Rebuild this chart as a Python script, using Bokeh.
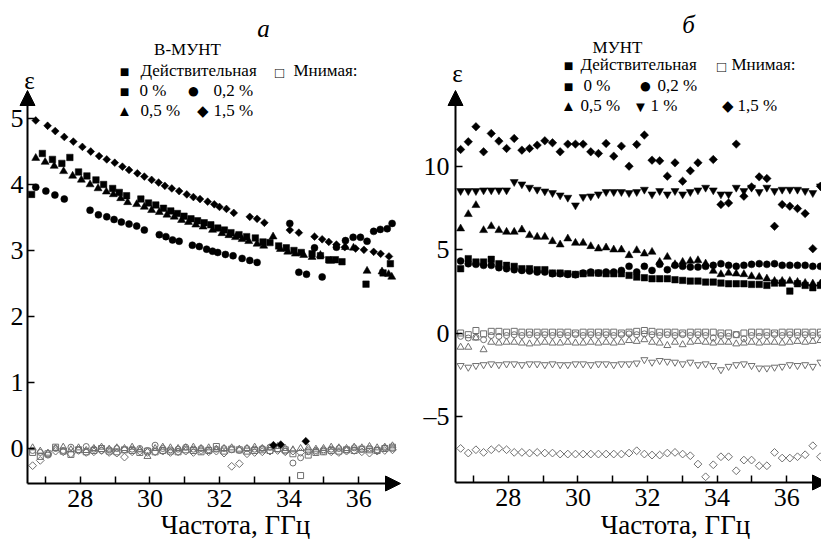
import numpy as np
from bokeh.plotting import figure
from bokeh.models import Label, Arrow, NormalHead, FixedTicker, Range1d
from bokeh.layouts import row
from bokeh.embed import file_html
from bokeh.resources import INLINE

FONT = "Liberation Serif"
GREY = "#6f6f6f"

# ---------------- data: panel a (B-MWCNT) ----------------
a_f_0 = [26.60, 26.91, 27.20, 27.47, 27.70, 27.95, 28.19, 28.45, 28.67, 28.93, 29.12, 29.33,
         29.74, 29.96, 30.17, 30.39, 30.60, 30.79, 30.98, 31.18, 31.37, 31.56, 31.75, 31.95,
         32.14, 32.33, 32.56, 32.78, 33.03, 33.25, 33.45, 33.70, 33.92, 34.14, 34.35, 34.66,
         34.90, 35.14, 35.33, 35.52, 36.21, 36.70, 36.91]
a_re_0 = [3.85, 4.47, 4.38, 4.32, 4.41, 4.19, 4.13, 4.07, 4.00, 3.94, 3.88, 3.83,
          3.78, 3.72, 3.69, 3.64, 3.60, 3.56, 3.52, 3.48, 3.45, 3.42, 3.39, 3.34,
          3.31, 3.27, 3.24, 3.21, 3.19, 3.13, 3.12, 3.07, 3.04, 3.00, 2.97, 2.95,
          2.92, 2.86, 2.86, 2.83, 2.49, 2.66, 2.80]

a_f_02 = [26.72, 27.01, 27.27, 27.54, 28.28, 28.52, 28.76, 28.97, 29.18, 29.40, 29.62, 29.84,
          30.27, 30.46, 30.65, 30.84, 31.22, 31.42, 31.63, 31.80, 31.95, 32.17, 32.39, 32.65,
          32.87, 33.08, 34.02, 34.28, 34.50, 34.73, 34.95, 35.36, 35.62, 35.84, 36.05, 36.24,
          36.43, 36.62, 36.82, 36.96]
a_re_02 = [3.96, 3.90, 3.84, 3.78, 3.61, 3.54, 3.51, 3.47, 3.43, 3.40, 3.37, 3.31,
           3.24, 3.21, 3.16, 3.14, 3.08, 3.06, 3.02, 2.99, 2.97, 2.94, 2.92, 2.88,
           2.85, 2.82, 3.41, 2.67, 2.64, 3.04, 2.60, 3.05, 3.15, 3.20, 3.20, 3.14,
           3.29, 3.32, 3.33, 3.41]

a_f_05 = [26.72, 26.99, 27.25, 27.52, 27.78, 28.03, 28.28, 28.51, 28.75, 28.95, 29.16, 29.36,
          29.62, 29.84, 30.05, 30.27, 30.49, 30.70, 30.91, 31.11, 31.32, 31.53, 31.80, 32.07,
          32.27, 32.46, 32.65, 32.84, 33.08, 33.27, 33.54, 33.75, 33.96, 34.18, 34.42, 34.66,
          34.90, 35.19, 35.62, 35.85, 36.24, 36.67, 36.86, 36.95]
a_re_05 = [4.40, 4.34, 4.28, 4.20, 4.13, 4.07, 4.00, 3.94, 3.89, 3.85, 3.79, 3.73,
           3.70, 3.66, 3.61, 3.58, 3.54, 3.51, 3.46, 3.43, 3.39, 3.36, 3.31, 3.26,
           3.23, 3.20, 3.17, 3.14, 3.10, 3.07, 3.21, 3.02, 2.98, 2.95, 2.93, 2.90,
           2.93, 2.84, 3.05, 3.04, 2.69, 2.68, 2.64, 2.60]

a_f_15 = [26.72, 27.06, 27.28, 27.54, 27.80, 28.06, 28.30, 28.54, 28.76, 28.99, 29.21, 29.40,
          29.64, 29.84, 30.05, 30.25, 30.43, 30.63, 30.84, 31.06, 31.25, 31.44, 31.66, 31.85,
          32.00, 32.20, 32.41, 32.87, 33.08, 33.29, 34.02, 34.28, 34.73, 34.95, 35.14, 35.36,
          35.60, 35.91, 36.15, 36.43, 36.63, 36.87]
a_re_15 = [4.97, 4.89, 4.81, 4.72, 4.65, 4.57, 4.50, 4.43, 4.38, 4.33, 4.27, 4.22,
           4.17, 4.12, 4.07, 4.03, 3.98, 3.94, 3.90, 3.85, 3.81, 3.78, 3.74, 3.70,
           3.66, 3.63, 3.57, 3.51, 3.48, 3.42, 3.31, 3.27, 3.21, 3.17, 3.13, 3.09,
           3.05, 3.03, 3.01, 2.98, 2.95, 2.91]

# measurement grid for the imaginary parts and for panel b
freq = [26.63, 26.85, 27.07, 27.29, 27.51, 27.73, 27.95, 28.17, 28.39, 28.61,
        28.83, 29.05, 29.27, 29.49, 29.71, 29.93, 30.15, 30.37, 30.59, 30.81,
        31.03, 31.25, 31.47, 31.69, 31.91, 32.13, 32.35, 32.57, 32.79, 33.01,
        33.23, 33.45, 33.67, 33.89, 34.11, 34.33, 34.55, 34.77, 34.99, 35.21,
        35.43, 35.65, 35.87, 36.09, 36.31, 36.53, 36.75, 36.97]

a_im_0 = [-0.06, -0.12, -0.08, 0.02, -0.04, -0.09, -0.02, -0.05, -0.03, 0.00,
          -0.04, -0.05, -0.02, -0.03, -0.06, -0.04, -0.05, -0.03, -0.04, -0.05,
          -0.02, -0.03, -0.05, -0.03, 0.03, -0.04, -0.01, -0.02, -0.04, -0.03,
          -0.02, -0.03, 0.00, -0.02, -0.08, -0.41, -0.10, -0.06, -0.05, -0.03,
          -0.04, -0.02, -0.03, -0.01, -0.02, -0.03, 0.00, 0.02]
a_im_02 = [-0.03, -0.06, -0.10, 0.00, -0.03, 0.02, -0.02, 0.03, -0.01, -0.03,
           -0.02, 0.00, -0.02, -0.01, 0.00, -0.03, 0.05, 0.00, -0.02, -0.01,
           0.02, -0.01, 0.00, -0.02, -0.01, 0.00, -0.02, -0.03, 0.00, -0.01,
           0.00, 0.02, -0.01, -0.04, -0.22, -0.14, -0.05, -0.03, -0.02, -0.01,
           0.00, -0.02, 0.01, -0.01, 0.00, -0.02, 0.01, 0.00]
a_im_05 = [0.01, -0.04, -0.07, 0.00, 0.02, -0.02, 0.01, -0.03, 0.00, 0.02,
           -0.01, 0.01, 0.00, 0.02, -0.02, -0.12, 0.00, 0.02, 0.01, 0.00,
           0.01, 0.02, 0.00, 0.01, -0.01, 0.00, 0.01, -0.01, 0.00, 0.02,
           0.00, 0.01, 0.03, 0.00, -0.02, 0.00, 0.01, -0.01, 0.00, 0.02,
           0.01, 0.00, 0.02, 0.01, 0.03, 0.01, 0.02, 0.04]
a_im_15 = [-0.26, -0.18, -0.08, -0.04, -0.05, -0.08, -0.03, -0.06, -0.05, -0.03,
           -0.06, -0.07, -0.13, -0.05, -0.04, -0.06, -0.05, -0.04, -0.06, -0.05,
           -0.04, -0.06, -0.03, -0.05, -0.04, -0.07, -0.27, -0.23, -0.08, -0.06,
           -0.05, -0.04, -0.03, -0.05, -0.04, -0.06, -0.03, -0.05, -0.04, -0.05,
           -0.06, -0.04, -0.03, -0.05, -0.07, -0.04, -0.03, -0.02]
a_f_extra = [33.55, 33.76, 34.48]
a_extra = [0.05, 0.06, 0.11]

# ---------------- data: panel b (MWCNT) ----------------
NA = np.nan
b_re_0 = [3.85, 4.45, 4.25, 4.25, 4.41, 4.15, 4.05, 3.99, 3.85, 3.85,
          3.79, 3.79, 3.59, 3.59, 3.55, 3.51, 3.55, 3.59, 3.59, 3.55,
          3.55, 3.55, 3.45, 3.35, 3.31, 3.25, 3.25, 3.25, 3.19, 3.15,
          3.11, 3.11, 3.05, 3.05, 2.99, 2.95, 2.95, 2.95, 2.91, 2.91,
          2.85, 2.99, 2.99, 2.51, 2.95, 2.85, 2.71, 2.85]
b_re_02 = [4.31, 4.15, 4.11, 4.05, 4.05, 3.91, 3.85, 3.79, 3.75, 3.71,
           3.65, 3.65, 3.55, 3.55, 3.51, 3.49, 3.59, 3.65, 3.59, 3.65,
           3.65, 3.75, 3.99, 3.65, 3.99, 3.75, 4.11, 3.79, 4.05, 3.99,
           3.95, 3.95, 3.99, 4.05, 4.15, 4.05, 3.99, 4.05, 4.11, 4.15,
           4.11, 4.15, 4.05, 4.05, 4.05, 4.05, 3.99, 3.99]
b_re_05 = [6.25, 7.11, 7.65, 6.15, 6.39, 6.15, 6.05, 6.05, 6.19, 5.85,
           5.75, 5.75, 5.49, 5.29, 5.65, 5.39, 5.39, 5.19, 5.05, 5.11,
           4.99, 4.99, 4.65, 4.95, 4.75, 4.85, 4.25, 4.55, 4.11, 4.25,
           4.31, 4.35, 4.15, 3.71, 3.51, 3.59, 3.55, 3.51, 3.39, 3.35,
           3.25, 3.11, 3.11, 3.11, 3.05, 2.99, 2.95, 2.95]
b_re_1 = [8.51, 8.51, 8.51, 8.55, 8.55, 8.55, 8.55, 9.05, 8.91, 8.71,
          8.59, 8.49, 8.39, 8.25, 8.11, 7.65, 8.15, 8.19, 8.31, 8.45,
          8.45, 8.45, 8.39, 8.45, 8.59, 8.31, 8.51, 8.31, 8.51, 8.31,
          8.45, 8.55, 8.71, 8.55, 8.31, 8.31, 8.71, 8.51, 8.71, 8.45,
          8.71, 8.51, 8.59, 8.59, 8.59, 8.51, 8.39, 8.79]
b_re_15 = [10.99, 11.45, 12.35, 10.85, 11.95, 11.49, 11.05, 11.65, 10.95, 11.05,
           11.25, 11.51, 11.39, 10.85, 11.31, 11.31, 11.31, 10.85, 10.75, 11.35,
           10.59, 11.19, 9.99, 11.29, 11.85, 10.35, 10.31, 9.39, 10.19, 9.09,
           9.71, 10.19, NA, 10.39, 7.69, 7.79, 11.31, 8.19, 8.75, 9.35,
           9.25, 6.39, 7.69, 7.59, 7.45, 7.15, 5.05, 8.79]

b_im_0 = [0.00, -0.10, 0.15, -0.05, 0.10, 0.10, 0.05, 0.10, 0.05, 0.05,
          0.05, 0.05, 0.05, 0.05, 0.05, 0.00, 0.05, 0.05, 0.05, 0.05,
          0.05, 0.00, 0.05, 0.10, 0.15, 0.10, 0.05, 0.05, 0.05, 0.00,
          0.05, 0.05, 0.05, 0.05, 0.00, 0.00, -0.10, 0.00, 0.05, 0.05,
          0.05, 0.00, 0.05, 0.05, 0.05, 0.05, 0.05, 0.05]
b_im_02 = [-0.20, -0.30, -0.25, -0.40, -0.15, -0.20, -0.15, -0.10, -0.15, -0.10,
           -0.15, -0.10, -0.15, -0.10, -0.15, -0.10, -0.15, -0.10, -0.15, -0.10,
           -0.15, -0.10, -0.05, -0.10, -0.05, -0.10, -0.15, -0.10, -0.15, -0.10,
           -0.15, -0.10, -0.15, -0.30, -0.15, -0.20, -0.10, -0.35, -0.15, -0.20,
           -0.15, -0.10, -0.15, -0.10, -0.15, -0.10, -0.15, -0.10]
b_im_05 = [-0.85, -0.85, -0.30, -1.00, -0.55, -0.60, -0.55, -0.55, -0.60, -0.65,
           -0.60, -0.55, -0.60, -0.60, -0.55, -0.60, -0.60, -0.55, -0.60, -0.55,
           -0.60, -0.55, -0.45, -0.50, -0.40, -0.55, -0.60, -0.75, -0.55, -0.70,
           -0.55, -0.50, -0.55, -0.60, -0.55, -0.55, -0.65, -0.60, -0.55, -0.60,
           -0.55, -0.55, -0.60, -0.55, -0.50, -0.55, -0.50, -0.45]
b_im_1 = [-1.95, -2.05, -1.95, -1.90, -1.85, -1.90, -1.85, -1.85, -1.90, -1.85,
          -1.85, -1.90, -1.85, -1.90, -1.90, -1.85, -1.85, -1.90, -1.85, -1.85,
          -1.90, -1.85, -1.85, -1.80, -1.60, -1.75, -1.65, -1.70, -1.75, -1.85,
          -1.75, -1.90, -1.85, -1.95, -2.20, -2.00, -1.90, -1.85, -1.95, -2.10,
          -2.10, -2.05, -2.00, -1.90, -1.95, -1.90, -2.00, -1.75]
b_im_15 = [-6.91, -7.19, -6.99, -7.15, -6.99, -6.91, -6.99, -7.15, -7.15, -7.19,
           -7.15, -7.19, -7.19, -7.25, -7.25, -7.25, -7.25, -7.25, -7.25, -7.25,
           -7.25, -7.25, -7.19, -7.05, -7.25, -7.31, -7.31, -7.19, -7.15, -7.25,
           -7.35, -7.85, -8.61, -7.89, -7.41, -7.41, -8.25, -7.61, -7.61, -7.95,
           -7.95, -7.15, -7.49, -7.49, -7.41, -7.29, -6.75, -7.41]

x_major = [28, 30, 32, 34, 36]
x_minor = [27, 29, 31, 33, 35]
a_yticks = [0, 1, 2, 3, 4, 5]
b_yticks = [-5, 0, 5, 10]

# ---------------- layout geometry (window pixels) ----------------
A_GEOM = dict(cx0=0, cx1=420, fx=27.0, px_f=45.0, sx=34.8, py_0=448.0, sy=66.0,
              axis_px=27, axis_py=483, tip_px=400, tip_py=90, standoff=4)
B_GEOM = dict(cx0=420, cx1=821, fx=27.0, px_f=473.0, sx=34.8, py_0=332.5, sy=16.7,
              axis_px=455, axis_py=482, tip_px=827, tip_py=90, standoff=6)
CY0, CY1 = 0, 539


def converters(g):
    def cx(px):
        return g["fx"] + (px - g["px_f"]) / g["sx"]
    def cy(py):
        return (g["py_0"] - py) / g["sy"]
    return cx, cy


def make_fig(g, yticks, overrides):
    cx, cy = converters(g)
    xr = (cx(g["cx0"]), cx(g["cx1"]))
    yr = (cy(CY1), cy(CY0))
    p = figure(width=g["cx1"] - g["cx0"], height=CY1 - CY0,
               x_range=Range1d(*xr), y_range=Range1d(*yr),
               output_backend="svg", toolbar_location=None, min_border=0)
    p.outline_line_color = None
    p.grid.visible = False
    p.background_fill_color = "white"
    p.border_fill_color = "white"
    ax0, ay0 = cx(g["axis_px"]), cy(g["axis_py"])
    p.xaxis[0].fixed_location = ay0
    p.yaxis[0].fixed_location = ax0
    p.xaxis[0].bounds = (ax0, cx(g["tip_px"]))
    p.yaxis[0].bounds = (ay0, cy(g["tip_py"]))
    for ax in (p.xaxis[0], p.yaxis[0]):
        ax.axis_line_color = None
        ax.major_tick_in = 7
        ax.major_tick_out = 0
        ax.minor_tick_in = 7
        ax.minor_tick_out = 0
        ax.major_tick_line_width = 1.5
        ax.minor_tick_line_width = 1.5
        ax.major_label_text_font = FONT
        ax.major_label_text_font_size = "26px"
        ax.major_label_text_color = "black"
    p.xaxis[0].ticker = FixedTicker(ticks=x_major, minor_ticks=x_minor)
    p.xaxis[0].major_label_standoff = 6
    p.yaxis[0].ticker = FixedTicker(ticks=yticks)
    p.yaxis[0].major_label_standoff = g["standoff"]
    if overrides:
        p.yaxis[0].major_label_overrides = overrides
    head = dict(size=15, fill_color="black", line_color="black")
    p.add_layout(Arrow(end=NormalHead(**head), x_start=ax0, y_start=ay0,
                       x_end=ax0, y_end=cy(g["tip_py"]), line_width=2, line_color="black"))
    p.add_layout(Arrow(end=NormalHead(**head), x_start=ax0, y_start=ay0,
                       x_end=cx(g["tip_px"]), y_end=ay0, line_width=2, line_color="black"))
    return p


def add_text(p, g, px, py, text, size, align="left", style="normal"):
    cx, cy = converters(g)
    p.add_layout(Label(x=cx(px), y=cy(py), text=text, text_font=FONT,
                       text_font_size=f"{size}px", text_font_style=style,
                       text_align=align, text_baseline="middle", text_color="black"))


def filled(p, x, y, marker, size, angle=0.0):
    p.scatter(x=x, y=y, marker=marker, size=size, angle=angle,
              fill_color="black", line_color="black", line_width=0.5)


def hollow(p, x, y, marker, size, angle=0.0):
    p.scatter(x=x, y=y, marker=marker, size=size, angle=angle,
              fill_color=None, line_color=GREY, line_width=1)


LEG = 17
SYM = {"■": 16, "□": 15, "●": 22, "▲": 15, "◆": 15, "▼": 15}

# ---------------- panel a ----------------
pa = make_fig(A_GEOM, a_yticks, None)

hollow(pa, freq, a_im_0, "square", 6)
hollow(pa, freq, a_im_02, "circle", 6)
hollow(pa, freq, a_im_05, "triangle", 7)
hollow(pa, freq, a_im_15, "square", 5.5, np.pi / 4)
filled(pa, a_f_extra, a_extra, "square", 5.5, np.pi / 4)

filled(pa, a_f_0, a_re_0, "square", 6.5)
filled(pa, a_f_02, a_re_02, "circle", 7)
filled(pa, a_f_05, a_re_05, "triangle", 8)
filled(pa, a_f_15, a_re_15, "square", 5.5, np.pi / 4)

G = A_GEOM
add_text(pa, G, 263, 28, "а", 25, "center", "italic")
add_text(pa, G, 187, 49, "В-МУНТ", 17, "center")
add_text(pa, G, 29, 80, "ε", 25, "center")
add_text(pa, G, 124, 71, "■", SYM["■"], "center")
add_text(pa, G, 140, 70, "Действительная", LEG)
add_text(pa, G, 279, 72, "□", SYM["□"], "center")
add_text(pa, G, 293, 70, "Мнимая:", LEG)
add_text(pa, G, 124, 91, "■", SYM["■"], "center")
add_text(pa, G, 139, 90, "0 %", LEG)
add_text(pa, G, 193, 90, "●", SYM["●"], "center")
add_text(pa, G, 213, 90, "0,2 %", LEG)
add_text(pa, G, 124, 110, "▲", SYM["▲"], "center")
add_text(pa, G, 140, 110, "0,5 %", LEG)
add_text(pa, G, 202, 110, "◆", SYM["◆"], "center")
add_text(pa, G, 213, 110, "1,5 %", LEG)
add_text(pa, G, 235, 524, "Частота, ГГц", 27, "center")

# ---------------- panel b ----------------
pb = make_fig(B_GEOM, b_yticks, {-5: "\u20135"})

hollow(pb, freq, b_im_0, "square", 6)
hollow(pb, freq, b_im_02, "circle", 6)
hollow(pb, freq, b_im_05, "triangle", 7)
hollow(pb, freq, b_im_1, "inverted_triangle", 7)
hollow(pb, freq, b_im_15, "square", 5.5, np.pi / 4)

filled(pb, freq, b_re_0, "square", 6.5)
filled(pb, freq, b_re_02, "circle", 7)
filled(pb, freq, b_re_05, "triangle", 8)
filled(pb, freq, b_re_1, "inverted_triangle", 8)
filled(pb, freq, b_re_15, "square", 6, np.pi / 4)

G = B_GEOM
add_text(pb, G, 688, 24, "б", 25, "center", "italic")
add_text(pb, G, 617, 47, "МУНТ", 17, "center")
add_text(pb, G, 457, 73, "ε", 25, "center")
add_text(pb, G, 568, 65, "■", SYM["■"], "center")
add_text(pb, G, 580, 64, "Действительная", LEG)
add_text(pb, G, 721, 66, "□", SYM["□"], "center")
add_text(pb, G, 731, 64, "Мнимая:", LEG)
add_text(pb, G, 568, 86, "■", SYM["■"], "center")
add_text(pb, G, 583, 85, "0 %", LEG)
add_text(pb, G, 645, 85, "●", SYM["●"], "center")
add_text(pb, G, 657, 85, "0,2 %", LEG)
add_text(pb, G, 568, 105, "▲", SYM["▲"], "center")
add_text(pb, G, 580, 105, "0,5 %", LEG)
add_text(pb, G, 640, 106, "▼", SYM["▼"], "center")
add_text(pb, G, 650, 105, "1 %", LEG)
add_text(pb, G, 727, 105, "◆", SYM["◆"], "center")
add_text(pb, G, 737, 105, "1,5 %", LEG)
add_text(pb, G, 675, 524, "Частота, ГГц", 27, "center")

layout = row(pa, pb)
open("out.html", "w").write(file_html(layout, INLINE))
